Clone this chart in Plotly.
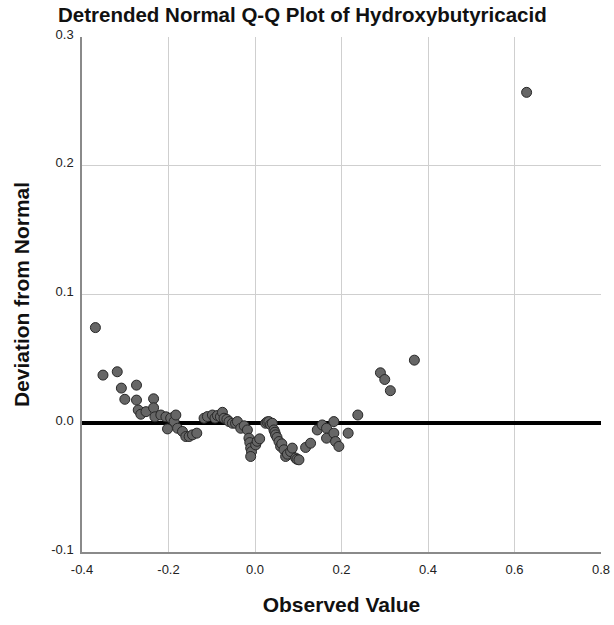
import plotly.graph_objects as go

observed = [
    -0.369, -0.3515, -0.3185, -0.309, -0.301, -0.274, -0.274, -0.270, -0.264, -0.252,
    -0.2345, -0.2345, -0.2315, -0.2177, -0.206, -0.2023, -0.195, -0.187, -0.183, -0.179,
    -0.1676, -0.160, -0.1523, -0.1445, -0.1346, -0.1178, -0.110, -0.0984, -0.0925, -0.0868,
    -0.080, -0.0753, -0.0716, -0.065, -0.060, -0.0522, -0.045, -0.0407, -0.033, -0.025,
    -0.0176, -0.014, -0.012, -0.010, -0.008, -0.010, 0.0016, 0.005, 0.0108, 0.0246,
    0.028, 0.032, 0.036, 0.040, 0.0438, 0.046, 0.0477, 0.051, 0.0554, 0.0592,
    0.062, 0.067, 0.0708, 0.075, 0.0823, 0.0862, 0.0939, 0.097, 0.1016, 0.117,
    0.1285, 0.144, 0.1555, 0.1654, 0.1654, 0.1823, 0.1823, 0.1862, 0.1939, 0.2154,
    0.2377, 0.290, 0.300, 0.313, 0.3685, 0.628,
]
deviation = [
    0.0743, 0.0374, 0.0400, 0.0273, 0.0186, 0.0296, 0.0180, 0.0103, 0.0070, 0.0090,
    0.0190, 0.0120, 0.0050, 0.0064, 0.0050, -0.0044, 0.0040, 0.0013, 0.0064, -0.0039,
    -0.0064, -0.0103, -0.0103, -0.0090, -0.0077, 0.0039, 0.0052, 0.0064, 0.0040, 0.0060,
    0.0050, 0.0085, 0.0039, 0.0030, 0.0013, 0.0000, 0.0000, 0.0013, -0.0039, -0.0020,
    -0.0052, -0.0116, -0.0150, -0.0193, -0.0220, -0.0258, -0.0168, -0.0140, -0.0121, 0.0000,
    0.0010, 0.0013, -0.0010, 0.0000, -0.0052, -0.0070, -0.0090, -0.0110, -0.0142, -0.0180,
    -0.0160, -0.0206, -0.0258, -0.0240, -0.0220, -0.0193, -0.0270, -0.0280, -0.0284, -0.0188,
    -0.0155, -0.0052, -0.0013, -0.0039, -0.0116, 0.0013, -0.0077, -0.0142, -0.0180, -0.0077,
    0.0064, 0.0392, 0.0340, 0.0253, 0.0490, 0.2570,
]

x_ticks = [-0.4, -0.2, 0.0, 0.2, 0.4, 0.6, 0.8]
x_tick_text = ["-0.4", "-0.2", "0.0", "0.2", "0.4", "0.6", "0.8"]
y_ticks = [-0.1, 0.0, 0.1, 0.2, 0.3]
y_tick_text = ["-0.1", "0.0", "0.1", "0.2", "0.3"]

font_family = "Liberation Sans, Arial, sans-serif"

W, H = 622, 625

fig = go.Figure()
fig.add_trace(go.Scatter(
    x=observed, y=deviation, mode="markers",
    marker=dict(size=10, color="rgb(102,102,102)",
                line=dict(color="rgb(40,40,40)", width=1)),
    showlegend=False, hoverinfo="x+y",
))

fig.update_layout(
    width=W, height=H,
    margin=dict(l=82, r=13, t=37, b=69),
    paper_bgcolor="white", plot_bgcolor="white",
    font=dict(family=font_family, color="#222"),
    title=dict(text="<b>Detrended Normal Q-Q Plot of Hydroxybutyricacid</b>",
               x=58/W, xanchor="left", y=1-15/H, yanchor="middle",
               font=dict(size=20.5, color="#111", family=font_family)),
    xaxis=dict(
        range=[-0.4, 0.8], tickvals=x_ticks, ticktext=x_tick_text,
        showgrid=True, gridcolor="#cfcfcf", gridwidth=1,
        showline=True, linecolor="#8a8a8a", linewidth=1.5,
        zeroline=False, ticks="", ticklabelstandoff=5,
        tickfont=dict(size=13, color="#222"),
        title=dict(text="<b>Observed Value</b>", font=dict(size=21, color="#111"), standoff=21),
    ),
    yaxis=dict(
        range=[-0.1, 0.3], tickvals=y_ticks, ticktext=y_tick_text,
        showgrid=True, gridcolor="#cfcfcf", gridwidth=1,
        showline=True, linecolor="#8a8a8a", linewidth=1.5,
        zeroline=True, zerolinecolor="black", zerolinewidth=3.5,
        ticks="", ticklabelstandoff=4, ticklabelshift=-3,
        tickfont=dict(size=13, color="#222"),
        title=dict(text="<b>Deviation from Normal</b>", font=dict(size=21, color="#111"), standoff=16),
    ),
)

# remove the default 8px body margin so the figure fills the window exactly
fig.write_html("out.html",
               config={"displayModeBar": False},
               post_script="document.body.style.margin='0';document.body.style.overflow='hidden';")
